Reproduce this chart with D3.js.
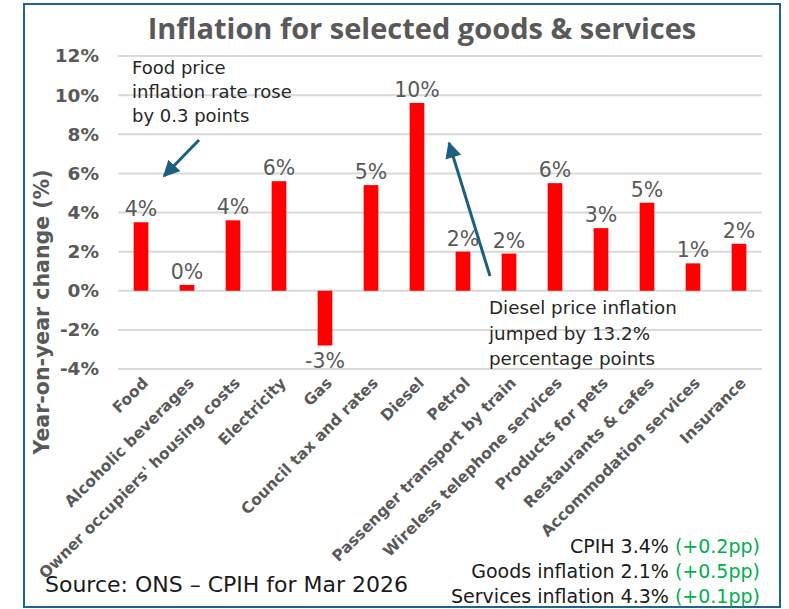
<!DOCTYPE html>
<html>
<head>
<meta charset="utf-8">
<script src="https://cdn.jsdelivr.net/npm/d3@7"></script>
<style>
  html, body { margin: 0; padding: 0; background: #fff; }
  svg { display: block; }
</style>
</head>
<body>
<svg id="chart" width="789" height="609"></svg>
<script>
const categories = ["Food", "Alcoholic beverages", "Owner occupiers' housing costs", "Electricity", "Gas",
  "Council tax and rates", "Diesel", "Petrol", "Passenger transport by train", "Wireless telephone services",
  "Products for pets", "Restaurants & cafes", "Accommodation services", "Insurance"];
const values = [3.5, 0.3, 3.6, 5.6, -2.8, 5.4, 9.6, 2.0, 1.9, 5.5, 3.2, 4.5, 1.4, 2.4];
const yTicks = [-4, -2, 0, 2, 4, 6, 8, 10, 12];
const titleText = "Inflation for selected goods & services";
const yAxisTitle = "Year-on-year change (%)";
const foodNote = ["Food price", "inflation rate rose", "by 0.3 points"];
const dieselNote = ["Diesel price inflation", "jumped by 13.2%", "percentage points"];
const sourceText = "Source: ONS \u2013 CPIH for Mar 2026";
const summaryLines = [
  ["CPIH 3.4% ", "(+0.2pp)"],
  ["Goods inflation 2.1% ", "(+0.5pp)"],
  ["Services inflation 4.3% ", "(+0.1pp)"]
];

const svg = d3.select("#chart");
const BOLD = "'DejaVu Sans', sans-serif";
const REG = "'DejaVu Sans', sans-serif";
const TITLEF = "'Open Sans', sans-serif";
const GREY = "#595959";
const BLUE = "#1f6390";
const ARROW = "#1d5f80";

// frame
svg.append("rect").attr("x", 24).attr("y", 4).attr("width", 756).attr("height", 603)
  .attr("fill", "#fff").attr("stroke", BLUE).attr("stroke-width", 2);

const x = d3.scaleBand().domain(categories).range([118, 762]).paddingInner(0.68).paddingOuter(0.34);
const y = d3.scaleLinear().domain([-4, 12]).range([369, 56]);

// gridlines
svg.append("g").selectAll("line").data(yTicks).join("line")
  .attr("x1", 118).attr("x2", 762)
  .attr("y1", d => y(d)).attr("y2", d => y(d))
  .attr("stroke", "#d9d9d9").attr("stroke-width", 2);

// y axis tick labels
const yAxis = svg.append("g").attr("transform", "translate(118,0)")
  .call(d3.axisLeft(y).tickValues(yTicks).tickFormat(d => d + "%").tickSize(0).tickPadding(19));
yAxis.select(".domain").remove();
yAxis.selectAll("text").attr("font-family", BOLD).attr("font-weight", 700)
  .attr("font-size", 18.5).attr("fill", GREY);

// bars
svg.append("g").selectAll("rect").data(values).join("rect")
  .attr("x", (d, i) => x(categories[i]))
  .attr("width", x.bandwidth())
  .attr("y", d => y(Math.max(0, d)))
  .attr("height", d => Math.abs(y(d) - y(0)))
  .attr("fill", "#ff0000");

// value labels
svg.append("g").selectAll("text").data(values).join("text")
  .attr("x", (d, i) => x(categories[i]) + x.bandwidth() / 2)
  .attr("y", d => d >= 0 ? y(d) - 6 : y(d) + 22)
  .attr("text-anchor", "middle")
  .attr("font-family", REG).attr("font-size", 20.5).attr("fill", GREY)
  .text(d => Math.round(d) + "%");

// x axis labels
const xAxis = svg.append("g").attr("transform", "translate(0,369)")
  .call(d3.axisBottom(x).tickSize(0).tickPadding(0));
xAxis.select(".domain").remove();
xAxis.selectAll("text")
  .attr("font-family", BOLD).attr("font-weight", 700).attr("font-size", 15.5).attr("fill", GREY)
  .attr("text-anchor", "end")
  .attr("dy", "0")
  .attr("transform", "translate(8,15) rotate(-45)");

// title
svg.append("text").attr("x", 422).attr("y", 39).attr("text-anchor", "middle")
  .attr("font-family", TITLEF).attr("font-weight", 700).attr("font-size", 29).attr("fill", GREY)
  .text(titleText);

// y axis title
svg.append("text").attr("transform", "translate(49,312) rotate(-90)").attr("text-anchor", "middle")
  .attr("font-family", BOLD).attr("font-weight", 700).attr("font-size", 20.5).attr("fill", GREY)
  .text(yAxisTitle);

// annotations
svg.append("text").attr("font-family", REG).attr("font-size", 18).attr("fill", "#262626")
  .selectAll("tspan").data(foodNote).join("tspan")
  .attr("x", 132).attr("y", (d, i) => 74 + i * 24).text(d => d);
svg.append("text").attr("font-family", REG).attr("font-size", 18.3).attr("fill", "#262626")
  .selectAll("tspan").data(dieselNote).join("tspan")
  .attr("x", 489).attr("y", (d, i) => 314 + i * 25.5).text(d => d);

// arrows
svg.append("defs").append("marker").attr("id", "ah")
  .attr("viewBox", "0 0 10 10").attr("refX", 9).attr("refY", 5)
  .attr("markerWidth", 5.5).attr("markerHeight", 5.5).attr("orient", "auto")
  .append("path").attr("d", "M0,0 L10,5 L0,10 z").attr("fill", ARROW);
svg.append("line").attr("x1", 199).attr("y1", 140).attr("x2", 164).attr("y2", 176)
  .attr("stroke", ARROW).attr("stroke-width", 3).attr("marker-end", "url(#ah)");
svg.append("line").attr("x1", 490).attr("y1", 276).attr("x2", 449).attr("y2", 143)
  .attr("stroke", ARROW).attr("stroke-width", 3).attr("marker-end", "url(#ah)");

// source
svg.append("text").attr("x", 45).attr("y", 592)
  .attr("font-family", REG).attr("font-size", 22).attr("fill", "#1a1a1a")
  .text(sourceText);

// summary lines
const sum = svg.append("g");
summaryLines.forEach((ln, i) => {
  const t = sum.append("text").attr("x", 760).attr("y", 553 + i * 25).attr("text-anchor", "end")
    .attr("font-family", REG).attr("font-size", 19);
  t.append("tspan").attr("fill", "#1a1a1a").text(ln[0]);
  t.append("tspan").attr("fill", "#00b050").text(ln[1]);
});
</script>
</body>
</html>
